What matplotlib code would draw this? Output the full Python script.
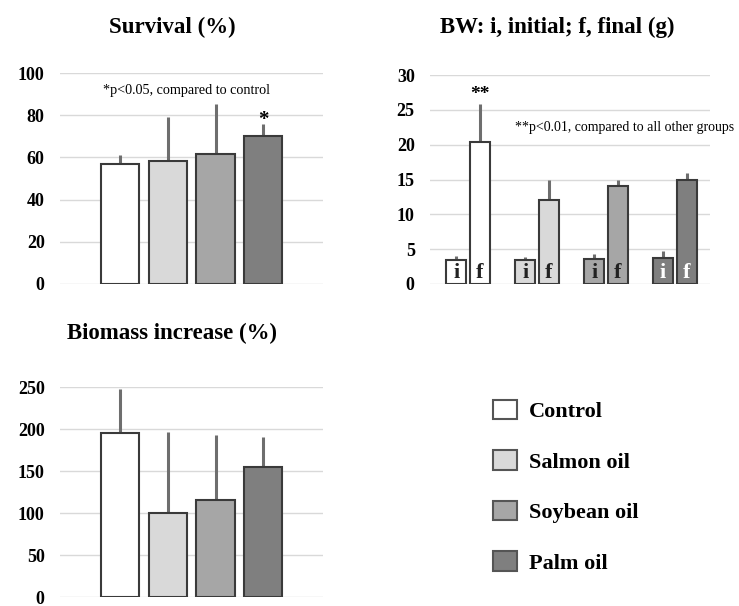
import matplotlib
matplotlib.use("Agg")
import matplotlib.pyplot as plt
from matplotlib.patches import Patch
import numpy as np

plt.rcParams['font.family'] = ['Liberation Serif', 'DejaVu Serif']

groups = ["Control", "Salmon oil", "Soybean oil", "Palm oil"]
colors = ["#ffffff", "#d9d9d9", "#a6a6a6", "#7f7f7f"]

survival = [57, 58.5, 61.5, 70]
survival_err = [4, 20.5, 24, 6]

bw_initial = [3.4, 3.4, 3.6, 3.8]
bw_initial_err = [0.6, 0.5, 0.7, 1.0]
bw_final = [20.4, 12.0, 14.0, 14.9]
bw_final_err = [5.4, 3.0, 1.0, 1.1]

biomass = [195, 100, 115, 155]
biomass_err = [53, 96, 78, 35]

EDGE = "#3a3a3a"
ERR = "#6e6e6e"
GRID = "#d9d9d9"

fig = plt.figure(figsize=(7.39, 6.06), dpi=100)
W, H = 739, 606

def ax_at(x0, x1, ytop, ybot):
    return fig.add_axes([x0 / W, 1 - ybot / H, (x1 - x0) / W, (ybot - ytop) / H])

def style(ax, ylim, ticks):
    ax.set_ylim(*ylim)
    ax.set_yticks(ticks)
    ax.set_yticklabels([str(t) for t in ticks], fontweight="bold", fontsize=13)
    ax.tick_params(axis="y", length=0, pad=11)
    ax.set_xticks([])
    for s in ax.spines.values():
        s.set_visible(False)
    ax.grid(axis="y", color=GRID, linewidth=1)
    ax.set_axisbelow(True)

def simple_bars(ax, vals, errs):
    x = np.arange(len(vals))
    ax.bar(x, vals, width=0.8, color=colors, edgecolor=EDGE, linewidth=1.5, zorder=3)
    ax.errorbar(x, vals, yerr=[np.zeros(len(vals)), errs], fmt="none",
                ecolor=ERR, elinewidth=2.2, capsize=0, zorder=2)
    return x

# Survival
ax1 = ax_at(60, 323, 73, 284)
style(ax1, (0, 100), [0, 20, 40, 60, 80, 100])
simple_bars(ax1, survival, survival_err)
ax1.set_xlim(-1.27, 4.26)
ax1.text(1.4, 91.5, "*p<0.05, compared to control", ha="center", va="center", fontsize=10.2)
ax1.text(3, survival[3] + survival_err[3] + 1.5, "*", ha="center", va="center",
         fontsize=15, fontweight="bold")
fig.text(172 / W, 1 - 27 / H, "Survival (%)", ha="center", va="center",
         fontsize=16.5, fontweight="bold")

# BW
ax2 = ax_at(430, 710, 75, 284)
style(ax2, (0, 30), [0, 5, 10, 15, 20, 25, 30])
xg = np.arange(len(groups))
off, bw = 0.17, 0.29
ax2.bar(xg - off, bw_initial, width=bw, color=colors, edgecolor=EDGE, linewidth=1.5, zorder=3)
ax2.bar(xg + off, bw_final, width=bw, color=colors, edgecolor=EDGE, linewidth=1.5, zorder=3)
ax2.errorbar(xg - off, bw_initial, yerr=[np.zeros(4), bw_initial_err], fmt="none",
             ecolor=ERR, elinewidth=2.2, capsize=0, zorder=2)
ax2.errorbar(xg + off, bw_final, yerr=[np.zeros(4), bw_final_err], fmt="none",
             ecolor=ERR, elinewidth=2.2, capsize=0, zorder=2)
ax2.set_xlim(-0.55, 3.51)
for i in range(4):
    tc = "white" if i == 3 else "#222222"
    ax2.text(xg[i] - off, 1.6, "i", ha="center", va="center", fontsize=16,
             fontweight="bold", color=tc, zorder=4)
    ax2.text(xg[i] + off, 1.6, "f", ha="center", va="center", fontsize=16,
             fontweight="bold", color=tc, zorder=4)
ax2.text(xg[0] + off, bw_final[0] + bw_final_err[0] + 1.4, "**", ha="center",
         va="center", fontsize=14, fontweight="bold")
ax2.text(0.68, 22.4, "**p<0.01, compared to all other groups", ha="left", va="center",
         fontsize=10, clip_on=False)
fig.text(557 / W, 1 - 27 / H, "BW: i, initial; f, final (g)", ha="center", va="center",
         fontsize=16.5, fontweight="bold")

# Biomass
ax3 = ax_at(60, 323, 387, 597)
style(ax3, (0, 250), [0, 50, 100, 150, 200, 250])
simple_bars(ax3, biomass, biomass_err)
ax3.set_xlim(-1.27, 4.26)
fig.text(172 / W, 1 - 333 / H, "Biomass increase (%)", ha="center", va="center",
         fontsize=16.5, fontweight="bold")

# Legend
handles = [Patch(facecolor=c, edgecolor="#555555", linewidth=1.5) for c in colors]
leg = fig.legend(handles, groups, loc="upper left", bbox_to_anchor=(473 / W, 1 - 380 / H),
                 frameon=False, handlelength=1.1, handleheight=0.95, handletextpad=0.5,
                 labelspacing=1.27, prop={"weight": "bold", "size": 16})

fig.savefig("out.png", dpi=100)
